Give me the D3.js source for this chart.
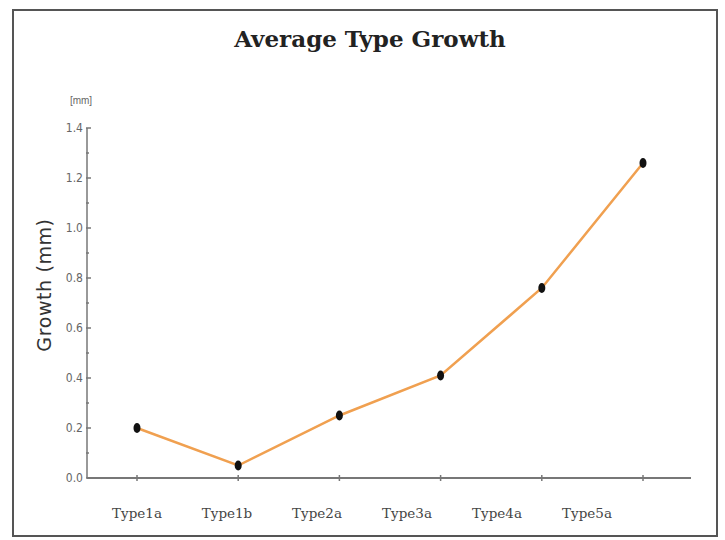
<!DOCTYPE html>
<html><head><meta charset="utf-8">
<script src="https://cdn.jsdelivr.net/npm/d3@7"></script>
<style>body{margin:0;background:#fff}svg{display:block}</style>
</head><body>
<svg id="c" width="725" height="540"></svg>
<script>
const categories = ["Type1a","Type1b","Type2a","Type3a","Type4a","Type5a"];
const growth = [0.20, 0.05, 0.25, 0.41, 0.76, 1.26];
const yTicks = [0.0,0.2,0.4,0.6,0.8,1.0,1.2,1.4];
const yMinor = [0.1,0.3,0.5,0.7,0.9,1.1,1.3];

const svg = d3.select("#c");
svg.append("rect").attr("x",13).attr("y",10).attr("width",704).attr("height",526)
  .attr("fill","#fff").attr("stroke","#555").attr("stroke-width",2);

const x = d3.scalePoint().domain(categories).range([137,643]);
const xLab = d3.scalePoint().domain(categories).range([137,587]);
const y = d3.scaleLinear().domain([0,1.4]).range([478,128]);

// axes lines
svg.append("line").attr("x1",87).attr("x2",691).attr("y1",y(0)).attr("y2",y(0))
  .attr("stroke","#777").attr("stroke-width",2);
svg.append("line").attr("x1",87).attr("x2",87).attr("y1",y(0)).attr("y2",y(1.4))
  .attr("stroke","#777").attr("stroke-width",1.5);

// y ticks
svg.selectAll(".yt").data(yTicks).join("line")
  .attr("x1",86).attr("x2",91).attr("y1",d=>y(d)).attr("y2",d=>y(d))
  .attr("stroke","#777").attr("stroke-width",1.5);
svg.selectAll(".ym").data(yMinor).join("line")
  .attr("x1",86).attr("x2",89).attr("y1",d=>y(d)).attr("y2",d=>y(d))
  .attr("stroke","#777").attr("stroke-width",1.5);
svg.selectAll(".yl").data(yTicks).join("text")
  .attr("x",83).attr("y",d=>y(d)+4).attr("text-anchor","end")
  .attr("font-family","Liberation Sans Narrow, DejaVu Sans Condensed, sans-serif")
  .attr("font-size",12).attr("fill","#666")
  .text(d=>d.toFixed(1));
svg.append("text").attr("x",81).attr("y",104).attr("text-anchor","middle")
  .attr("font-family","Liberation Sans Narrow, sans-serif").attr("font-size",10).attr("fill","#666").text("[mm]");

// x ticks
svg.selectAll(".xt").data(categories).join("line")
  .attr("x1",d=>x(d)).attr("x2",d=>x(d)).attr("y1",y(0)-3).attr("y2",y(0)+3)
  .attr("stroke","#777").attr("stroke-width",1.5);
svg.selectAll(".xl").data(categories).join("text")
  .attr("x",d=>xLab(d)).attr("y",y(0)+40).attr("text-anchor","middle")
  .attr("font-family","DejaVu Serif, serif").attr("font-size",13.5).attr("fill","#444")
  .text(d=>d);

// titles
svg.append("text").attr("x",370).attr("y",47).attr("text-anchor","middle")
  .attr("font-family","DejaVu Serif, serif").attr("font-weight","bold").attr("font-size",23)
  .attr("fill","#222").text("Average Type Growth");
svg.append("text").attr("transform","translate(51,285) rotate(-90)").attr("text-anchor","middle")
  .attr("font-family","DejaVu Sans, sans-serif").attr("font-size",19).attr("letter-spacing",0.6)
  .attr("fill","#333").text("Growth (mm)");

// line
const pts = categories.map((c,i)=>[c,growth[i]]);
svg.append("path").datum(pts)
  .attr("d", d3.line().x(d=>x(d[0])).y(d=>y(d[1])))
  .attr("fill","none").attr("stroke","#f0a050").attr("stroke-width",2.5);
svg.selectAll(".pt").data(pts).join("ellipse")
  .attr("cx",d=>x(d[0])).attr("cy",d=>y(d[1])).attr("rx",3.5).attr("ry",5)
  .attr("fill","#111");
</script>
</body></html>
